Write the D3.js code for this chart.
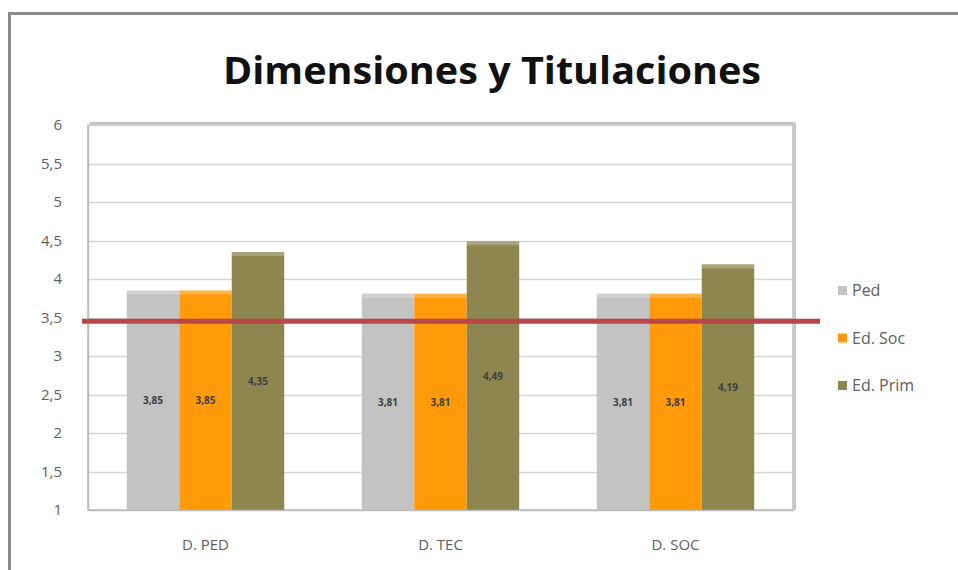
<!DOCTYPE html>
<html><head><meta charset="utf-8">
<script src="https://cdnjs.cloudflare.com/ajax/libs/d3/7.8.5/d3.min.js"></script>
<style>body{margin:0;background:#fff}svg{display:block}</style>
</head><body>
<script>
const categories = ["D. PED", "D. TEC", "D. SOC"];
const seriesNames = ["Ped", "Ed. Soc", "Ed. Prim"];
const ped = [3.85, 3.81, 3.81];
const edSoc = [3.85, 3.81, 3.81];
const edPrim = [4.35, 4.49, 4.19];
const referenceValue = 3.45;
const yTicks = [1, 1.5, 2, 2.5, 3, 3.5, 4, 4.5, 5, 5.5, 6];
const title = "Dimensiones y Titulaciones";

const seriesValues = [ped, edSoc, edPrim];
const colors = ["#c3c3c3", "#ff9a0a", "#8d864f"];
const W = 958, H = 570;
const fmt = v => d3.format(".2f")(v).replace(".", ",");
const fmtTick = v => String(v).replace(".", ",");

const svg = d3.select("body").append("svg").attr("width", W).attr("height", H);

// outer frame
svg.append("path").attr("d", `M9.5,${H} V13.5 H${W}`).attr("fill","none")
  .attr("stroke","#8a8a8a").attr("stroke-width",3);

const m = {left: 88, right: 793, top: 125, bottom: 510};
const x0 = d3.scaleBand().domain(categories).range([m.left, m.right]).paddingInner(0.33).paddingOuter(0.165);
const x1 = d3.scaleBand().domain(seriesNames).range([0, x0.bandwidth()]);
const y = d3.scaleLinear().domain([1, 6]).range([m.bottom, m.top]);

// title
svg.append("text").attr("x", 492).attr("y", 84).attr("text-anchor","middle")
  .attr("font-family","Open Sans, sans-serif").attr("font-weight","bold")
  .attr("font-size", 38).attr("textLength", 538).attr("lengthAdjust","spacingAndGlyphs")
  .attr("fill","#111").text(title);

// plot area shadow + border
svg.append("rect").attr("x", m.left+2).attr("y", m.top-3).attr("width", m.right-m.left).attr("height", 5)
  .attr("fill","#c4c4c4");
svg.append("rect").attr("x", m.left).attr("y", m.top).attr("width", m.right-m.left).attr("height", m.bottom-m.top)
  .attr("fill","#fff").attr("stroke","#bdbdbd").attr("stroke-width",1.5);
svg.append("line").attr("x1", m.right+1.5).attr("x2", m.right+1.5).attr("y1", m.top-2).attr("y2", m.bottom)
  .attr("stroke","#c8c8c8").attr("stroke-width",3);

// gridlines
svg.append("g").selectAll("line").data(yTicks.slice(1)).join("line")
  .attr("x1", m.left).attr("x2", m.right)
  .attr("y1", d => Math.round(y(d))+0.5).attr("y2", d => Math.round(y(d))+0.5)
  .attr("stroke","#d6d6d6").attr("stroke-width",1.5);

// y axis
const yAxis = svg.append("g").attr("transform", `translate(${m.left},0)`)
  .call(d3.axisLeft(y).tickValues(yTicks).tickFormat(fmtTick).tickSize(0).tickPadding(26));
yAxis.select(".domain").attr("stroke","#bdbdbd").attr("stroke-width",1.5);
yAxis.selectAll("text").attr("font-family","Open Sans, sans-serif").attr("font-size",15).attr("fill","#606060");

// bars
const groups = svg.append("g").selectAll("g").data(categories).join("g")
  .attr("transform", d => `translate(${x0(d)},0)`);
groups.each(function(cat, ci) {
  const g = d3.select(this);
  seriesNames.forEach((s, si) => {
    const v = seriesValues[si][ci];
    g.append("rect").attr("x", x1(s)).attr("y", y(v)).attr("width", x1.bandwidth())
      .attr("height", y(1) - y(v)).attr("fill", colors[si]);
    g.append("rect").attr("x", x1(s)).attr("y", y(v)).attr("width", x1.bandwidth())
      .attr("height", 4).attr("fill", "#fff").attr("opacity", 0.25);
    g.append("text").attr("x", x1(s) + x1.bandwidth()/2).attr("y", y((1+v)/2)+4)
      .attr("text-anchor","middle").attr("font-family","Open Sans, sans-serif")
      .attr("font-weight","bold").attr("font-size",10).attr("fill","#404040").text(fmt(v));
  });
});

// x axis
const xAxis = svg.append("g").attr("transform", `translate(0,${m.bottom})`)
  .call(d3.axisBottom(x0).tickSize(0).tickPadding(29));
xAxis.select(".domain").attr("stroke","#bdbdbd").attr("stroke-width",1.5);
xAxis.selectAll("text").attr("font-family","Open Sans, sans-serif").attr("font-size",15).attr("fill","#606060");

// reference line
svg.append("line").attr("x1", 82).attr("x2", 820).attr("y1", y(referenceValue)).attr("y2", y(referenceValue))
  .attr("stroke","#b8464a").attr("stroke-width",5);

// legend
const lg = svg.append("g").selectAll("g").data(seriesNames).join("g")
  .attr("transform", (d,i) => `translate(838,${291 + i*47.5})`);
lg.append("rect").attr("x",0).attr("y",-5).attr("width",9).attr("height",9).attr("fill",(d,i)=>colors[i]);
lg.append("text").attr("x",14).attr("y",5).attr("font-family","Open Sans, sans-serif")
  .attr("font-size",16).attr("fill","#606060").text(d=>d);
</script>
</body></html>
